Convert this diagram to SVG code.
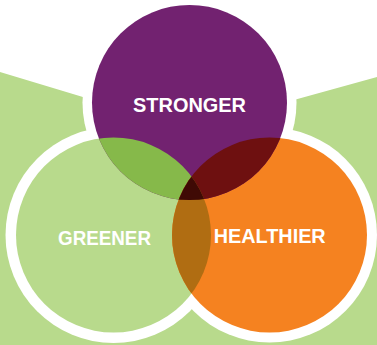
<svg xmlns="http://www.w3.org/2000/svg" width="377" height="345" viewBox="0 0 377 345">
  <style>
    .lbl{font-family:"Liberation Sans",Arial,sans-serif;font-weight:700;font-size:21px;fill:#ffffff}
    .ring{fill:#ffffff}
  </style>
  <defs>
    <clipPath id="cG"><circle cx="113.5" cy="235" r="97.5"/></clipPath>
    <clipPath id="cO"><circle cx="269.5" cy="235" r="97.5"/></clipPath>
    <clipPath id="cP"><circle cx="189.5" cy="102.5" r="97.5"/></clipPath>
  </defs>
  <rect width="377" height="345" fill="#ffffff"/>
  <polygon points="0,72 189,129 377,77 377,345 0,345" fill="#b8da8c"/>
  <g id="rings">
    <circle class="ring" cx="189.5" cy="102.5" r="107"/>
    <circle class="ring" cx="113.5" cy="235" r="108"/>
    <circle class="ring" cx="269.5" cy="235" r="107.5"/>
  </g>
  <g id="greener">
    <circle cx="113.5" cy="235" r="97.5" fill="#b8da8c"/>
  </g>
  <g id="healthier">
    <circle cx="269.5" cy="235" r="97.5" fill="#f58220"/>
  </g>
  <g id="stronger">
    <circle cx="189.5" cy="102.5" r="97.5" fill="#722270"/>
  </g>
  <g id="overlaps">
    <circle cx="189.5" cy="102.5" r="97.5" fill="#86b94a" clip-path="url(#cG)"/>
    <circle cx="189.5" cy="102.5" r="97.5" fill="#6e1010" clip-path="url(#cO)"/>
    <circle cx="113.5" cy="235" r="97.5" fill="#b06d12" clip-path="url(#cO)"/>
    <g clip-path="url(#cP)">
      <circle cx="113.5" cy="235" r="97.5" fill="#3f0a05" clip-path="url(#cO)"/>
    </g>
  </g>
  <g id="labels">
    <text class="lbl" x="189.5" y="112.3" text-anchor="middle" textLength="113" lengthAdjust="spacingAndGlyphs">STRONGER</text>
    <text class="lbl" x="104.5" y="245" text-anchor="middle" textLength="93" lengthAdjust="spacingAndGlyphs">GREENER</text>
    <text class="lbl" x="269.7" y="243.3" text-anchor="middle" textLength="112" lengthAdjust="spacingAndGlyphs">HEALTHIER</text>
  </g>
</svg>
